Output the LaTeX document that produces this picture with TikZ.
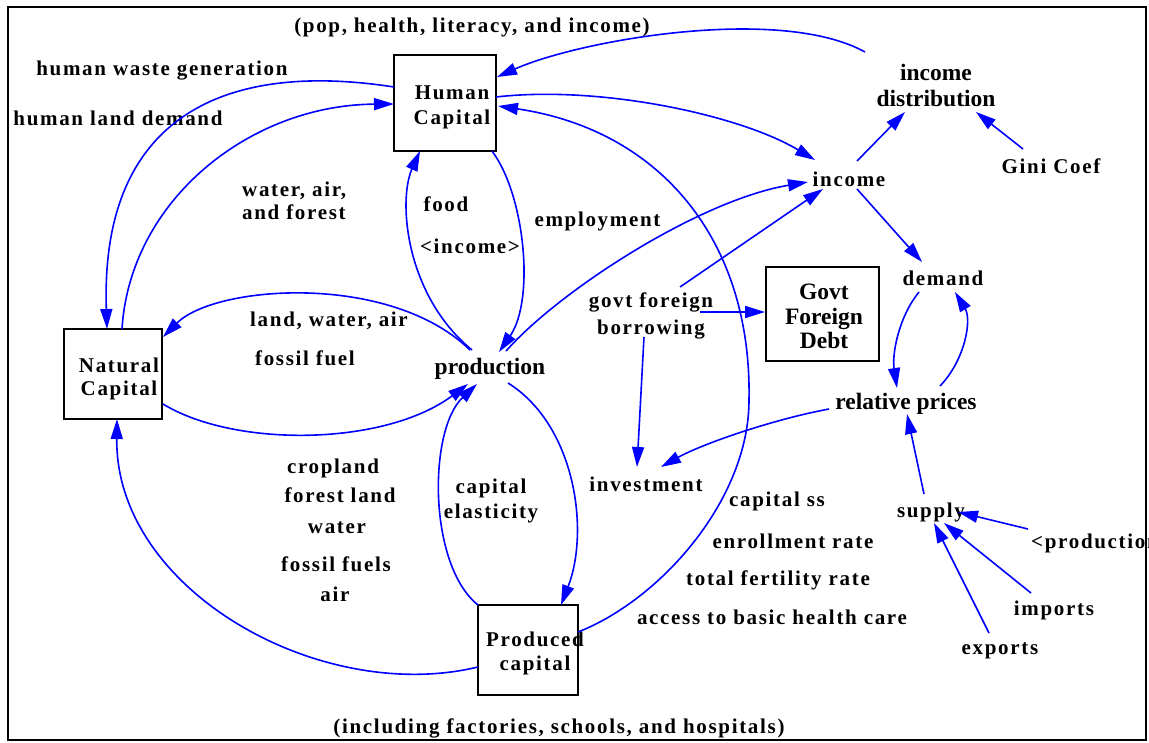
\documentclass[tikz,border=0pt]{standalone}
\usepackage{fontspec}
\setmainfont{Liberation Serif}
\newfontfamily\spfont[LetterSpace=8]{Liberation Serif}
\usetikzlibrary{arrows.meta,calc}
\begin{document}
\begin{tikzpicture}[x=1pt,y=-1pt,
  lab/.style={font=\spfont\bfseries\fontsize{21}{25}\selectfont, inner sep=0pt, align=center},
  big/.style={font=\bfseries\fontsize{23.5}{25}\selectfont, inner sep=0pt, align=center},
  boxst/.style={draw, line width=2pt, inner sep=0pt},
  conn/.style={draw=blue, line width=1.6pt, -{Triangle[length=20pt,width=12pt]}}]
\useasboundingbox (0,0) rectangle (1149,742);
\draw[line width=2pt] (8,7) rectangle (1146,740);

% stocks
\node[boxst, minimum width=102pt, minimum height=96pt] (hc) at (445,103) {};
\node[lab] (hct) at (452,107) {Human\\Capital};
\node[boxst, minimum width=98pt, minimum height=90pt] (nc) at (113,374) {};
\node[lab] (nct) at (119,378.5) {Natural\\[-2pt]Capital};
\node[boxst, minimum width=100pt, minimum height=90pt] (pc) at (528,650) {};
\node[lab] (pct) at (535,653) {Produced\\[-1pt]capital};
\node[boxst, minimum width=113pt, minimum height=94pt] (gfd) at (822.5,314) {};
\node[big] (gfdt) at (824,316.5) {Govt\\[-0.5pt]Foreign\\[-0.5pt]Debt};

% variables and labels
\node[lab] (top) at (472,27) {(pop, health, literacy, and income)};
\node[lab] (hwg) at (162,71) {human waste generation};
\node[lab] (hld) at (118,118) {human land demand};
\node[lab, anchor=west, align=left] (waf) at (242,200.5) {water, air,\\[-2pt]and forest};
\node[lab] (food) at (446,204) {food};
\node[lab] (incm) at (470,246) {<income>};
\node[lab] (empl) at (597.5,221) {employment};
\node[lab] (inc) at (849,179) {income};
\node[big] (idist) at (936,85) {income\\[1pt]distribution};
\node[lab] (gini) at (1051,166) {Gini Coef};
\node[lab] (dem) at (943,278) {demand};
\node[lab] (gfb) at (651,315.5) {govt foreign\\[2pt]borrowing};
\node[big] (rp) at (906,404) {relative prices};
\node[lab] (inv) at (646,484) {investment};
\node[lab] (lwa) at (329,321) {land, water, air};
\node[lab] (ff) at (305,358) {fossil fuel};
\node[big] (prod) at (490,369) {production};
\node[lab] (crop) at (333,468) {cropland};
\node[lab] (fl) at (340,495) {forest land};
\node[lab] (wat) at (337,528) {water};
\node[lab] (ffs) at (336,564) {fossil fuels};
\node[lab] (air) at (335,594) {air};
\node[lab] (cel) at (491,500.5) {capital\\elasticity};
\node[lab] (css) at (777,501) {capital ss};
\node[lab] (enr) at (793,541) {enrollment rate};
\node[lab] (tfr) at (778,580) {total fertility rate};
\node[lab] (acc) at (772,617) {access to basic health care};
\node[lab] (sup) at (931,512) {supply};
\node[lab, anchor=west] (pin) at (1031,543) {<production};
\node[lab] (imp) at (1054,610) {imports};
\node[lab] (exp) at (1000,651) {exports};
\node[lab] (incl) at (559,728) {(including factories, schools, and hospitals)};

% connectors
\draw[conn] ($(idist)+(-71,-33)$) .. controls (780,5) and (580,40) .. ($(hc)+(52,-26)$);
\draw[conn] ($(hc)+(-51,-16)$) .. controls (220,60) and (100,120) .. ($(nc)+(-6,-45)$);
\draw[conn] ($(nc)+(9,-45)$) .. controls (130,200) and (250,105) .. ($(hc)+(-51,1)$);
\draw[conn] ($(hc)+(47,48)$) .. controls (525,195) and (535,300) .. ($(prod)+(9,-17)$);
\draw[conn] ($(prod)+(-18,-19)$) .. controls (405,295) and (398,200) .. ($(hc)+(-25,48)$);
\draw[conn] ($(prod)+(-20,-19)$) .. controls (390,272) and (215,285) .. ($(nc)+(50,-37)$);
\draw[conn] ($(nc)+(50,30)$) .. controls (235,448) and (385,446) .. ($(prod)+(-22,15)$);
\draw[conn] ($(pc)+(-50,-45)$) .. controls (428,565) and (428,430) .. ($(prod)+(-13,15)$);
\draw[conn] ($(prod)+(18,14)$) .. controls (575,425) and (590,530) .. ($(pc)+(33,-45)$);
\draw[conn] ($(pc)+(-50,17)$) .. controls (320,705) and (115,590) .. ($(nc)+(4,45)$);
\draw[conn] ($(pc)+(50,-18)$) .. controls (660,600) and (749,500) .. (749,400)
   .. controls (752,240) and (660,130) .. ($(hc)+(53,3)$);
\draw[conn] ($(hc)+(51,-6)$) .. controls (600,85) and (740,115) .. ($(inc)+(-34,-19)$);
\draw[conn] ($(prod)+(16,-18)$) .. controls (560,290) and (700,200) .. ($(inc)+(-41,3)$);
\draw[conn] ($(gfb)+(29,-28.5)$) -- ($(inc)+(-26,10)$);
\draw[conn] ($(gfb)+(49,-3.5)$) -- ($(gfd.west)+(0,-2)$);
\draw[conn] ($(gfb)+(-7,21.5)$) -- ($(inv)+(-9,-17)$);
\draw[conn] ($(rp)+(-77,5)$) .. controls (770,420) and (700,445) .. ($(inv)+(15,-17)$);
\draw[conn] ($(inc)+(8,-18)$) -- ($(idist)+(-31,27)$);
\draw[conn] ($(gini)+(-28,-17)$) -- ($(idist)+(40,27)$);
\draw[conn] ($(inc)+(8,10)$) -- ($(dem)+(-21,-16)$);
\draw[conn] ($(dem)+(-24,14)$) .. controls (898,318) and (892,355) .. ($(rp)+(-9,-16)$);
\draw[conn] ($(rp)+(34,-18)$) .. controls (965,360) and (972,320) .. ($(dem)+(12,14)$);
\draw[conn] ($(sup)+(-7,-18)$) -- ($(rp)+(1,10)$);
\draw[conn] ($(pin.west)+(-3,-14)$) -- ($(sup)+(27,0)$);
\draw[conn] ($(imp)+(-23,-17)$) -- ($(sup)+(13,11)$);
\draw[conn] ($(exp)+(-11,-18)$) -- ($(sup)+(3,11)$);
\end{tikzpicture}
\end{document}
